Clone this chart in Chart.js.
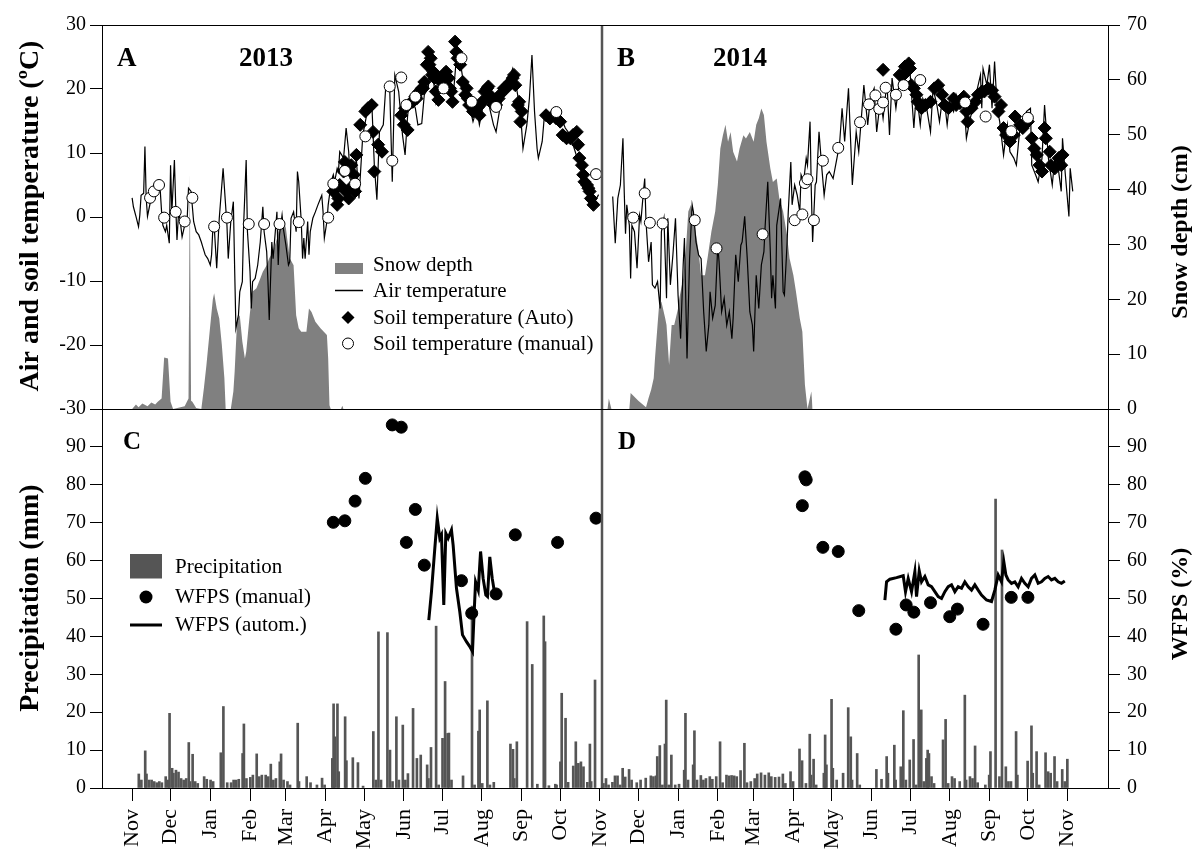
<!DOCTYPE html>
<html>
<head>
<meta charset="utf-8">
<script src="https://cdn.jsdelivr.net/npm/chart.js@4.4.1/dist/chart.umd.min.js"></script>
<style>
  html, body { margin: 0; padding: 0; background: #fff; }
  #wrap { position: relative; width: 1196px; height: 855px; overflow: hidden; }
  #cTop { position: absolute; left: 0; top: 0; }
  #cBot { position: absolute; left: 0; top: 380px; }
</style>
</head>
<body>
<div id="wrap">
  <canvas id="cTop" width="1196" height="432" style="width:1196px;height:432px"></canvas>
  <canvas id="cBot" width="1196" height="475" style="width:1196px;height:475px"></canvas>
</div>
<script>
// Days are counted from 1 November 2012.
const monthLabels = ['Nov','Dec','Jan','Feb','Mar','Apr','May','Jun','Jul','Aug','Sep','Oct',
                     'Nov','Dec','Jan','Feb','Mar','Apr','May','Jun','Jul','Aug','Sep','Oct','Nov'];
const monthStartDays = [0,30,61,92,120,151,181,212,242,273,304,334,365,395,426,457,485,516,546,577,607,638,669,699,730];
const seasonBreak = 366.5;

// Air temperature (°C), [day, value]
const airTemp2013 = [[0,3.0],[1,1.6],[3,0.1],[5,-1.5],[6,0.3],[7,3.4],[9,3.7],[10,11.0],[11,2.9],[12,0.1],[14,2.1],[16,2.9],[18,3.4],[19,5.0],[22,4.0],[23,0.8],[24,-1.3],[26,-2.3],[27,-1.3],[29,-4.1],[30,8.1],[31,0.8],[33,8.9],[34,1.9],[35,-3.6],[36,-0.2],[37,0.3],[39,-3.1],[41,-1.3],[43,-0.2],[44,4.5],[46,4.0],[48,-0.7],[50,-2.3],[52,-2.8],[54,-3.9],[55,-4.6],[57,-5.9],[59,-6.5],[61,-7.5],[62,-5.9],[63,-1.8],[64,-1.3],[66,-8.0],[68,-0.2],[71,7.6],[74,-1.3],[75,-6.5],[77,-0.7],[79,2.4],[80,-8.0],[81,-17.4],[83,-15.3],[84,-11.7],[86,-10.1],[87,-1.3],[89,8.9],[90,-2.3],[92,-8.5],[93,-14.3],[94,-10.1],[96,-9.6],[98,-7.5],[100,-3.9],[102,1.6],[103,-2.3],[105,-5.4],[106,-10.1],[107,-16.1],[109,-3.9],[110,-6.5],[113,0.8],[114,-7.5],[115,-2.8],[117,0.3],[118,-1.8],[120,-4.4],[122,-7.5],[123,-7.0],[124,-0.2],[126,0.8],[128,-2.3],[129,7.1],[130,5.5],[132,-0.7],[133,-6.5],[134,-3.3],[135,-6.5],[137,-0.7],[138,-5.9],[139,-2.3],[141,-0.2],[143,0.8],[145,1.9],[147,2.9],[148,3.4],[149,0.8],[150,-3.3],[152,-0.7],[153,1.9],[154,3.4],[156,6.0],[157,6.6],[158,5.5],[160,7.6],[161,7.1],[162,10.2],[165,9.2],[167,13.9],[169,10.2],[170,6.0],[172,5.5],[175,9.0],[177,2.9],[180,12.8],[184,17.0],[187,18.0],[189,8.1],[191,2.7],[193,13.3],[196,14.4],[198,20.6],[201,20.1],[203,5.5],[205,22.2],[208,19.6],[211,12.8],[213,9.7],[215,15.9],[217,18.8],[221,17.0],[223,14.4],[226,14.6],[228,19.1],[231,20.1],[233,23.8],[235,21.7],[237,18.0],[240,22.2],[243,23.2],[245,21.7],[248,19.3],[250,17.5],[253,24.8],[256,24.3],[258,21.7],[261,19.6],[263,17.5],[266,14.9],[269,17.0],[271,14.4],[274,17.5],[277,19.6],[279,17.0],[282,14.4],[284,13.3],[287,17.0],[290,19.6],[293,21.1],[297,23.2],[300,20.1],[303,16.5],[305,10.7],[308,14.4],[310,18.5],[312,25.3],[314,16.5],[316,10.7],[317,9.2],[320,11.8],[322,16.5],[326,15.9],[330,17.0],[334,15.9],[338,13.9],[342,12.8],[345,10.7],[349,8.1],[353,6.0],[357,4.0],[361,2.4],[364,3.5]];
const airTemp2014 = [[375,3.2],[377,-4.1],[379,2.9],[381,5.0],[383,12.3],[384,4.0],[385,-2.6],[386,1.9],[388,-1.3],[389,-9.6],[390,-1.3],[392,-2.3],[394,-8.0],[396,0.3],[397,-0.7],[399,4.0],[400,6.0],[401,-0.7],[403,-7.0],[405,-3.9],[406,-10.6],[408,-11.1],[410,-10.1],[412,-14.3],[413,-2.3],[415,-0.2],[417,-12.7],[418,-0.2],[420,-10.6],[422,-5.9],[424,-0.2],[426,-12.2],[428,-19.0],[430,-7.5],[431,-3.3],[433,-22.1],[435,-6.5],[437,1.9],[438,0.8],[440,-3.9],[442,-5.9],[444,-6.5],[446,-14.8],[448,-21.0],[450,-16.9],[451,-11.7],[453,-15.8],[455,-13.8],[457,-4.4],[458,-7.0],[460,-14.8],[462,-12.7],[464,-16.9],[466,-14.8],[468,-19.0],[469,-15.8],[471,-5.9],[473,-10.1],[475,-4.4],[476,-3.9],[478,0.1],[480,-6.5],[482,-14.8],[484,-16.9],[485,-21.0],[487,-9.1],[489,-14.3],[491,-7.5],[493,-5.4],[494,-1.3],[496,5.5],[498,-5.4],[499,-12.7],[500,-9.1],[502,-14.3],[503,-1.3],[506,2.9],[508,-11.7],[509,-12.2],[511,-4.4],[512,0.8],[514,8.6],[515,1.9],[517,5.0],[519,3.4],[521,0.8],[522,6.6],[524,5.5],[526,9.2],[527,8.1],[529,14.9],[530,4.0],[531,-3.9],[533,5.0],[534,5.5],[536,13.3],[538,8.1],[540,3.4],[542,6.6],[544,7.1],[547,6.0],[550,9.2],[552,11.3],[554,17.0],[556,11.8],[559,20.1],[561,10.2],[562,5.0],[565,13.3],[567,10.2],[569,15.4],[571,20.6],[574,14.4],[576,18.5],[579,20.1],[581,13.3],[584,18.5],[586,15.4],[589,21.1],[591,12.8],[593,21.7],[596,17.0],[599,21.7],[602,20.6],[604,22.2],[607,22.7],[610,13.9],[612,19.6],[615,14.4],[617,18.5],[620,17.0],[623,13.3],[625,20.1],[628,17.5],[630,14.9],[633,19.6],[636,14.4],[638,18.0],[641,16.5],[643,19.1],[646,17.0],[649,18.5],[651,12.3],[654,15.4],[656,17.0],[659,19.6],[662,22.2],[663,17.0],[664,23.2],[667,20.6],[669,23.8],[671,17.0],[673,24.3],[675,17.0],[677,14.9],[680,9.7],[683,14.4],[685,10.2],[688,9.2],[690,8.1],[693,14.4],[696,15.4],[698,16.5],[701,17.0],[702,8.1],[705,6.6],[707,5.5],[710,9.2],[712,17.5],[715,9.2],[718,5.0],[720,9.2],[723,7.1],[725,4.0],[726,12.3],[728,7.1],[731,0.1],[732,7.6],[734,4.0]];

// Soil temperature, automatic logger (°C)
const soilAuto2013 = [[157,4.0],[160,1.9],[161,2.9],[162,5.0],[165,7.1],[166,8.6],[167,4.0],[169,2.9],[170,4.5],[171,8.1],[173,6.6],[174,4.0],[175,9.7],[178,14.4],[182,16.5],[184,17.0],[187,17.5],[188,13.3],[189,7.1],[192,11.3],[195,10.2],[210,15.9],[212,14.4],[213,17.0],[215,13.6],[218,18.0],[219,18.0],[221,18.8],[222,18.5],[224,19.6],[226,20.1],[227,20.1],[228,21.1],[230,23.8],[231,25.8],[232,23.8],[233,24.8],[234,22.2],[235,22.7],[236,21.7],[237,19.6],[239,18.3],[240,21.7],[241,21.1],[243,22.2],[244,22.2],[245,22.7],[247,21.7],[248,20.1],[249,19.6],[250,18.0],[252,27.4],[253,25.8],[254,24.8],[256,23.8],[258,21.1],[260,19.1],[261,20.1],[262,18.5],[263,17.5],[265,18.0],[266,16.5],[267,17.5],[269,17.0],[270,17.2],[271,15.9],[273,18.0],[274,18.0],[275,19.6],[277,20.1],[278,20.4],[279,19.1],[280,18.5],[282,17.5],[284,17.5],[286,18.5],[287,19.1],[290,20.1],[292,20.1],[293,20.6],[295,21.1],[297,21.7],[298,22.2],[299,20.6],[301,17.5],[302,18.0],[303,14.9],[304,16.5],[323,15.9],[326,15.4],[329,15.9],[331,15.4],[334,14.9],[336,12.8],[339,12.3],[342,12.3],[344,12.8],[347,13.3],[348,11.3],[349,9.2],[351,8.1],[352,6.6],[353,5.5],[355,5.0],[356,4.5],[357,4.0],[358,2.9],[360,1.9]];
const soilAuto2014 = [[586,23.0],[599,22.2],[602,22.2],[603,23.5],[606,24.0],[607,23.2],[608,20.6],[610,20.1],[612,19.1],[613,18.0],[616,17.0],[619,17.5],[623,18.0],[626,20.1],[629,20.6],[632,19.1],[634,17.5],[637,17.0],[641,18.5],[643,17.5],[646,17.8],[649,18.8],[651,16.5],[652,14.9],[655,17.0],[658,18.0],[660,19.1],[663,19.6],[665,19.6],[668,20.1],[671,19.8],[673,18.8],[676,16.5],[678,17.5],[680,13.9],[682,12.8],[685,11.8],[688,12.8],[689,15.7],[693,14.4],[695,13.9],[699,14.9],[702,12.3],[704,10.7],[706,9.7],[708,8.1],[710,7.1],[712,13.9],[713,12.3],[716,10.2],[717,8.1],[720,7.6],[723,9.2],[725,8.1],[726,9.7]];

// Soil temperature, manual readings (°C)
const soilManual2013 = [[14,3.0],[17,4.0],[21,5.0],[25,-0.1],[34,0.8],[41,-0.7],[47,3.0],[64,-1.5],[74,-0.1],[91,-1.1],[103,-1.1],[115,-1.1],[130,-0.8],[153,-0.1],[157,5.2],[166,7.2],[174,5.2],[182,12.6],[201,20.4],[203,8.8],[210,21.8],[214,17.5],[221,18.8],[243,20.1],[257,24.8],[265,18.0],[284,17.2],[331,16.4],[362,6.7]];
const soilManual2014 = [[391,-0.1],[400,3.7],[404,-0.9],[414,-1.0],[439,-0.5],[456,-4.9],[492,-2.7],[517,-0.5],[523,0.4],[525,5.3],[527,5.9],[532,-0.5],[539,8.8],[551,10.8],[568,14.8],[575,17.6],[580,19.0],[583,16.9],[586,17.9],[588,20.2],[596,19.1],[602,20.6],[615,21.4],[650,17.9],[666,15.7],[686,13.4],[699,15.5]];

// Snow depth (cm)
const snow2013 = [[0,0],[3,0.8],[5,0.3],[8,1.0],[12,0.5],[15,1.2],[18,0.8],[20,1.3],[23,1.9],[25,9.4],[28,9.2],[30,1.3],[32,0],[41,0.5],[44,1.9],[45,43],[46,1.5],[47,1.3],[50,0.2],[54,0],[56,3.8],[58,8.0],[61,15.3],[63,20.0],[64,21.1],[66,18.3],[68,16.5],[70,11.7],[72,5.6],[73,0],[77,0],[79,3.2],[80,6.8],[82,16.5],[84,17.1],[86,12.3],[88,9.2],[89,10.4],[91,15.3],[92,17.7],[94,21.4],[97,22.0],[100,23.8],[102,25.0],[105,26.2],[107,27.5],[110,28.7],[113,31.1],[115,33.5],[117,35.0],[120,33.0],[121,31.1],[123,27.5],[126,26.2],[128,17.1],[130,14.7],[132,14.1],[136,14.1],[138,18.3],[140,17.7],[143,15.9],[147,14.7],[152,13.5],[153,9.2],[154,0.7],[155,0],[163,0],[164,0.6],[165,0]];
const snow2014 = [[365,0],[371,0],[372,1.9],[374,0],[388,0],[389,2.9],[395,1.5],[401,0.3],[403,2.0],[405,3.5],[407,5.6],[408,9.2],[410,15.3],[411,18.3],[413,19.6],[416,16.5],[417,15.3],[419,8.0],[421,15.3],[423,15.3],[426,18.3],[427,20.2],[430,23.8],[432,28.7],[434,36.0],[436,37.2],[439,33.5],[442,28.7],[444,24.4],[447,24.4],[449,27.5],[452,32.3],[455,36.0],[457,40.8],[459,47.5],[461,49.9],[463,51.8],[465,48.7],[467,50.5],[469,46.9],[472,45.1],[474,47.5],[477,49.9],[479,49.3],[482,50.5],[485,48.7],[487,51.8],[489,53.0],[491,54.8],[493,53.6],[495,48.7],[498,43.9],[500,41.4],[503,42.0],[505,38.4],[508,36.0],[511,31.7],[513,27.5],[516,24.4],[518,21.4],[521,16.5],[523,14.1],[525,4.4],[527,0],[530,3.2],[531,0]];

// Daily precipitation (mm)
const precip2013 = [[6,3.7],[8,2.1],[11,9.8],[12,3.7],[14,2.1],[16,2.1],[18,1.7],[20,1.4],[22,1.7],[24,1.4],[27,3.0],[29,2.1],[30,19.7],[32,5.2],[33,3.9],[35,4.7],[37,4.2],[39,2.5],[41,2.1],[43,2.5],[45,12.0],[46,1.7],[48,8.9],[50,1.7],[52,1.2],[57,3.0],[59,2.3],[62,2.1],[64,1.7],[70,9.3],[72,21.5],[75,1.4],[78,1.4],[80,2.1],[82,2.1],[84,2.3],[87,9.1],[88,16.9],[90,2.5],[93,2.8],[95,3.4],[98,9.0],[100,3.0],[102,3.4],[105,3.4],[107,3.0],[109,6.3],[111,2.1],[113,2.5],[116,6.9],[117,9.0],[119,2.1],[122,1.7],[124,0.8],[130,17.1],[131,1.7],[137,3.0],[140,1.4],[145,0.8],[149,2.6],[151,0.8],[157,7.8],[158,22.2],[159,13.5],[161,22.2],[162,4.3],[167,18.8],[168,7.2],[173,8.0],[177,6.7],[181,0.5],[189,14.9],[191,2.1],[193,41.2],[195,2.1],[200,41.0],[202,10.0],[204,1.7],[207,18.8],[209,2.1],[212,16.6],[214,2.1],[216,3.8],[220,21.0],[223,7.8],[226,8.7],[231,6.1],[232,2.5],[234,10.7],[238,42.7],[240,0.8],[243,13.1],[245,28.1],[247,14.4],[248,14.5],[250,2.1],[259,3.2],[266,48.0],[268,0.8],[271,15.0],[272,20.6],[274,1.2],[278,23.0],[280,0.8],[283,1.5],[296,11.6],[298,10.2],[299,2.5],[301,12.2],[309,43.9],[313,32.6],[317,1.0],[322,45.4],[323,38.6],[326,0.6],[331,1.0],[332,0.8],[335,6.9],[336,25.0],[339,18.4],[341,1.5],[345,5.8],[347,12.2],[349,6.5],[351,6.9],[353,5.6],[356,1.5],[358,11.6],[359,1.7],[362,28.5]];
const precip2014 = [[367,1.2],[369,2.5],[371,0.8],[374,1.5],[376,3.2],[378,3.2],[380,0.8],[382,5.2],[384,2.9],[387,4.9],[389,2.1],[393,1.4],[396,2.1],[400,2.6],[404,3.2],[406,3.0],[408,3.2],[409,8.3],[411,11.2],[413,0.8],[415,11.6],[416,23.2],[418,0.8],[420,8.7],[423,0.8],[426,1.0],[430,4.7],[431,19.7],[433,2.1],[437,6.1],[438,15.1],[440,2.1],[443,3.3],[445,2.1],[447,2.5],[450,3.0],[452,2.3],[455,3.0],[458,12.2],[460,1.4],[463,3.4],[465,3.2],[467,3.3],[469,3.2],[471,3.0],[474,4.6],[477,11.8],[479,1.4],[482,1.7],[485,2.5],[487,3.7],[490,4.0],[493,3.4],[496,4.0],[498,3.0],[501,2.8],[504,2.9],[507,3.7],[509,1.2],[513,4.3],[515,1.7],[520,10.3],[522,7.2],[525,1.2],[528,14.2],[529,3.4],[531,7.6],[533,0.8],[539,3.9],[540,14.0],[541,6.1],[545,23.4],[546,5.2],[549,2.1],[554,3.9],[558,21.2],[560,13.5],[561,2.1],[565,9.1],[567,0.8],[580,4.9],[584,2.3],[588,8.3],[589,3.9],[594,11.3],[595,2.1],[599,5.6],[601,20.4],[603,2.1],[606,7.4],[609,12.8],[611,0.8],[613,35.1],[615,20.6],[617,1.7],[619,7.8],[620,10.0],[621,9.1],[623,3.0],[625,1.2],[632,12.7],[634,18.1],[636,1.2],[639,3.0],[641,2.5],[645,1.7],[649,24.5],[650,2.1],[653,3.0],[655,2.5],[657,11.1],[659,1.4],[665,0.8],[668,3.4],[669,9.6],[673,76.2],[676,3.0],[678,62.8],[681,5.6],[683,1.7],[685,1.7],[689,14.9],[690,3.4],[698,7.1],[701,16.4],[702,3.9],[705,9.6],[707,0.8],[712,9.3],[714,4.3],[716,3.9],[719,8.3],[721,1.7],[725,4.9],[727,1.7],[729,7.6]];

// Water-filled pore space (%)
const wfpsManual2013 = [[157,70.1],[166,70.5],[174,75.7],[182,81.7],[203,95.8],[210,95.2],[214,64.8],[221,73.5],[228,58.8],[257,54.7],[265,46.1],[284,51.2],[299,66.8],[332,64.8],[362,71.2]];
const wfpsManual2014 = [[523,74.5],[525,82.1],[526,81.3],[539,63.5],[551,62.4],[567,46.8],[596,41.9],[604,48.3],[610,46.4],[623,48.9],[638,45.2],[644,47.2],[664,43.2],[686,50.3],[699,50.3]];
const wfpsAuto2013 = [[231.5,44.3],[233.6,51.8],[236.2,63.2],[238.1,71.2],[240.1,65.9],[241.4,66.8],[243.2,48.3],[244.8,67.2],[246.6,65.9],[249.2,68.1],[250.5,64.1],[253.1,52.7],[255.7,46.5],[257.8,40.4],[260.9,38.6],[263.5,37.3],[265.6,36.0],[266.7,44.8],[268.0,54.4],[270.1,52.2],[271.9,62.4],[273.9,55.3],[276.0,50.9],[277.3,50.5],[279.1,61.0],[281.0,55.3],[282.5,52.2]];
const wfpsAuto2014 = [[587.4,49.6],[588.7,54.4],[591.3,55.1],[596.5,55.5],[601.7,56.0],[603.5,51.8],[605.6,55.3],[608.2,51.8],[610.8,57.1],[612.1,50.5],[614.2,57.3],[616.0,54.4],[618.6,55.8],[621.2,53.6],[623.8,53.1],[626.4,51.8],[629.0,50.5],[631.6,50.0],[634.2,51.8],[636.8,53.1],[639.4,53.6],[642.0,51.8],[644.6,53.1],[647.2,52.7],[649.8,54.4],[652.4,53.1],[655.0,52.2],[657.6,53.6],[660.2,52.2],[662.8,50.9],[666.7,49.6],[670.6,49.2],[673.2,52.2],[675.8,56.2],[678.4,54.4],[680.2,59.7],[681.8,56.2],[683.6,54.9],[686.2,54.0],[688.8,54.4],[691.4,53.1],[694.0,55.3],[696.6,54.0],[699.2,53.1],[701.8,55.3],[704.4,56.2],[707.0,54.0],[709.6,54.4],[712.2,55.3],[714.8,55.8],[717.4,54.9],[720.0,55.3],[722.6,54.4],[725.2,54.0],[727.8,54.6]];

const FONT = "'Liberation Serif', 'Times New Roman', Times, serif";
const pts = arr => arr.map(([x, y]) => ({ x, y }));
Chart.defaults.font.family = FONT;
Chart.defaults.color = '#000';

function xScale(show) {
  const s = {
    type: 'linear', min: -23.5, max: 761.5, display: show, offset: false,
    grid: { display: true, drawOnChartArea: false, drawTicks: true, tickLength: 13, color: '#000', offset: false },
    border: { display: true, color: '#000', width: 1 },
    afterBuildTicks: sc => { sc.ticks = monthStartDays.map(v => ({ value: v })); },
    ticks: {
      autoSkip: false, minRotation: 90, maxRotation: 90, padding: 8, color: '#000',
      font: { family: FONT, size: 22 },
      callback: (v, i) => monthLabels[i]
    }
  };
  if (show) s.afterFit = sc => { sc.height = 67; };
  return s;
}

function yScale(pos, min, max, width, hideTop) {
  return {
    type: 'linear', position: pos, min, max,
    grid: { drawOnChartArea: false, drawTicks: true, tickLength: 12, color: '#000' },
    border: { display: true, color: '#000', width: 1 },
    afterFit: s => { s.width = width; },
    ticks: {
      stepSize: 10, padding: pos === 'left' ? 4 : 7, color: '#000',
      font: { family: FONT, size: 20 },
      callback: v => (hideTop && v === max) ? null : String(v)
    }
  };
}

function vText(ctx, text, x, y) {
  ctx.save();
  ctx.translate(x, y);
  ctx.rotate(-Math.PI / 2);
  ctx.textAlign = 'center';
  ctx.textBaseline = 'middle';
  ctx.fillText(text, 0, 0);
  ctx.restore();
}

function framePlugin(extras) {
  return {
    id: 'frame',
    afterDatasetsDraw(chart) {
      const { ctx, chartArea: a, scales } = chart;
      ctx.save();
      const xd = Math.round(scales.x.getPixelForValue(seasonBreak));
      ctx.strokeStyle = '#555';
      ctx.lineWidth = 2.5;
      ctx.beginPath(); ctx.moveTo(xd, a.top); ctx.lineTo(xd, a.bottom); ctx.stroke();
      ctx.strokeStyle = '#000';
      ctx.lineWidth = 1;
      ctx.strokeRect(Math.round(a.left) + 0.5, Math.round(a.top) + 0.5,
                     Math.round(a.right - a.left), Math.round(a.bottom - a.top));
      ctx.fillStyle = '#000';
      extras(ctx, chart);
      ctx.restore();
    }
  };
}

// ---- Upper panels: temperatures and snow depth ----
function topExtras(ctx) {
  ctx.textAlign = 'left';
  ctx.textBaseline = 'alphabetic';
  ctx.font = `bold 27px ${FONT}`;
  ctx.fillText('A', 117, 66);
  ctx.fillText('2013', 239, 66);
  ctx.fillText('B', 617, 66);
  ctx.fillText('2014', 713, 66);

  ctx.font = `21px ${FONT}`;
  ctx.textBaseline = 'middle';
  ctx.fillStyle = '#808080';
  ctx.fillRect(335, 263, 28, 11);
  ctx.fillStyle = '#000';
  ctx.fillText('Snow depth', 373, 265);
  ctx.lineWidth = 1.5;
  ctx.beginPath(); ctx.moveTo(335, 290.5); ctx.lineTo(363, 290.5); ctx.stroke();
  ctx.fillText('Air temperature', 373, 291);
  ctx.beginPath();
  ctx.moveTo(348, 311); ctx.lineTo(354.5, 317.5); ctx.lineTo(348, 324); ctx.lineTo(341.5, 317.5);
  ctx.closePath(); ctx.fill();
  ctx.fillText('Soil temperature (Auto)', 373, 318);
  ctx.beginPath(); ctx.arc(348, 343.5, 5.5, 0, Math.PI * 2);
  ctx.fillStyle = '#fff'; ctx.fill();
  ctx.lineWidth = 1; ctx.strokeStyle = '#000'; ctx.stroke();
  ctx.fillStyle = '#000';
  ctx.fillText('Soil temperature (manual)', 373, 344);

  ctx.font = `bold 28px ${FONT}`;
  vText(ctx, 'Air and soil temperature (ºC)', 31, 216);
  ctx.font = `bold 24px ${FONT}`;
  vText(ctx, 'Snow depth (cm)', 1181, 232);
}

const lineDs = (arr, yAxisID, width) => ({
  type: 'line', data: pts(arr), yAxisID, borderColor: '#000', borderWidth: width,
  pointRadius: 0, tension: 0, fill: false
});
const markDs = (arr, yAxisID, style, radius, bg) => ({
  type: 'line', data: pts(arr), yAxisID, showLine: false, pointStyle: style,
  pointRadius: radius, pointBackgroundColor: bg, pointBorderColor: '#000', pointBorderWidth: 1
});
const snowDs = arr => ({
  type: 'line', data: pts(arr), yAxisID: 'ySnow', borderWidth: 0, pointRadius: 0,
  tension: 0, fill: 'origin', backgroundColor: '#808080'
});

new Chart(document.getElementById('cTop'), {
  type: 'line',
  data: {
    datasets: [
      markDs(soilManual2013, 'yTemp', 'circle', 5.5, '#fff'),
      markDs(soilManual2014, 'yTemp', 'circle', 5.5, '#fff'),
      markDs(soilAuto2013, 'yTemp', 'rectRot', 6.5, '#000'),
      markDs(soilAuto2014, 'yTemp', 'rectRot', 6.5, '#000'),
      lineDs(airTemp2013, 'yTemp', 1.2),
      lineDs(airTemp2014, 'yTemp', 1.2),
      snowDs(snow2013),
      snowDs(snow2014)
    ]
  },
  options: {
    responsive: false, animation: false, events: [],
    layout: { padding: { top: 25, bottom: 23, left: 0, right: 0 } },
    plugins: { legend: { display: false }, tooltip: { enabled: false } },
    scales: {
      x: xScale(false),
      yTemp: yScale('left', -30, 30, 102, false),
      ySnow: yScale('right', 0, 70, 88, false)
    }
  },
  plugins: [framePlugin(topExtras)]
});

// ---- Lower panels: precipitation and WFPS ----
function botExtras(ctx) {
  ctx.textAlign = 'left';
  ctx.textBaseline = 'alphabetic';
  ctx.font = `bold 25px ${FONT}`;
  ctx.fillText('C', 123, 69);
  ctx.fillText('D', 618, 69);

  ctx.font = `21px ${FONT}`;
  ctx.textBaseline = 'middle';
  ctx.fillStyle = '#555';
  ctx.fillRect(130, 174, 32, 24.5);
  ctx.fillStyle = '#000';
  ctx.fillText('Precipitation', 175, 187);
  ctx.beginPath(); ctx.arc(146, 217, 6.5, 0, Math.PI * 2); ctx.fill();
  ctx.fillText('WFPS (manual)', 175, 217);
  ctx.lineWidth = 3;
  ctx.beginPath(); ctx.moveTo(130, 245); ctx.lineTo(162, 245); ctx.stroke();
  ctx.fillText('WFPS (autom.)', 175, 245);

  ctx.font = `bold 28px ${FONT}`;
  vText(ctx, 'Precipitation (mm)', 31, 218);
  ctx.font = `bold 24px ${FONT}`;
  vText(ctx, 'WFPS (%)', 1181, 224);
}

const precipDs = arr => ({
  type: 'bar', data: pts(arr), yAxisID: 'yPrec', backgroundColor: '#555',
  barThickness: 2, borderWidth: 0
});

new Chart(document.getElementById('cBot'), {
  type: 'line',
  data: {
    datasets: [
      lineDs(wfpsAuto2013, 'yWfps', 3),
      lineDs(wfpsAuto2014, 'yWfps', 3),
      markDs(wfpsManual2013, 'yWfps', 'circle', 6, '#000'),
      markDs(wfpsManual2014, 'yWfps', 'circle', 6, '#000'),
      precipDs(precip2013),
      precipDs(precip2014)
    ]
  },
  options: {
    responsive: false, animation: false, events: [],
    layout: { padding: { top: 29, bottom: 0, left: 0, right: 0 } },
    plugins: { legend: { display: false }, tooltip: { enabled: false } },
    scales: {
      x: xScale(true),
      yPrec: yScale('left', 0, 100, 102, true),
      yWfps: yScale('right', 0, 100, 88, true)
    }
  },
  plugins: [framePlugin(botExtras)]
});
</script>
</body>
</html>
